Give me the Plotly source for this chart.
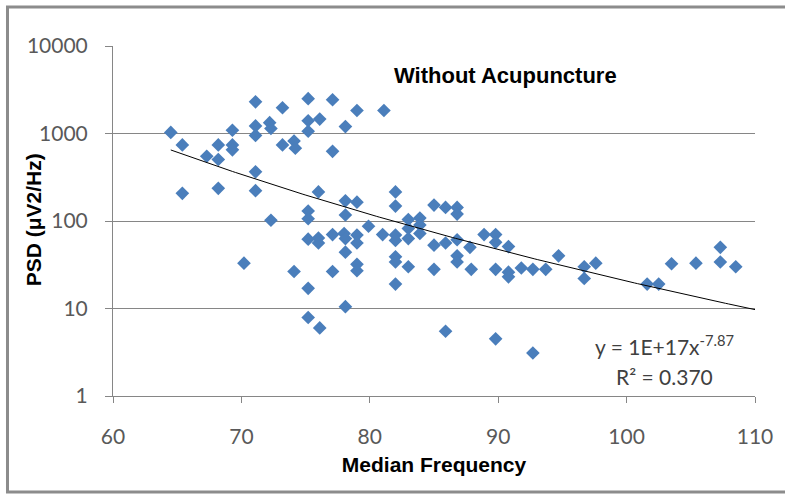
import plotly.graph_objects as go
import numpy as np

# ---- data ----
median_freq = [
    64.5, 65.4, 67.3, 68.2, 68.2, 69.3, 69.3, 69.3, 71.1, 71.1, 71.1, 71.1,
    72.2, 72.3, 73.2, 73.2, 74.1, 74.2, 75.2, 75.2, 75.2, 76.1, 77.1, 77.1,
    78.1, 79.0, 81.1,
    65.4, 68.2, 71.1, 72.3, 75.2, 75.2, 76.0, 78.1, 78.1, 79.0, 79.9, 82.0,
    82.0, 85.0, 85.9, 86.8, 86.8, 83.0, 83.9,
    75.2, 76.0, 76.0, 77.1, 78.0, 78.1, 79.0, 79.0, 78.1, 81.0, 82.0, 82.0,
    83.0, 83.0, 83.9, 83.9, 85.0, 85.9, 86.8, 87.8, 88.9, 89.8, 89.8, 90.8,
    70.2, 74.1, 77.1, 79.0, 79.0, 82.0, 82.0, 82.0, 83.0, 85.0, 86.8, 86.8,
    87.9, 89.8, 90.8, 90.8, 91.8, 92.7, 93.7, 94.7, 96.7, 96.7, 97.6, 101.6,
    102.5, 103.5, 105.4, 107.3, 107.3, 108.5, 75.2,
    75.2, 76.1, 78.1, 85.9, 89.8, 92.7,
]
psd = [
    1030, 740, 550, 740, 505, 1090, 740, 650, 2300, 1220, 950, 365,
    1330, 1140, 1970, 740, 820, 680, 2500, 1400, 1060, 1460, 2430, 625,
    1200, 1830, 1830,
    207, 236, 222, 102, 130, 106, 215, 170, 117, 164, 87, 215,
    148, 152, 143, 143, 120, 104, 108,
    62, 64, 56, 70, 72, 63, 69, 56, 44, 70, 69, 60,
    63, 82, 90, 72, 53, 56, 61, 50, 70, 70, 57, 51,
    33, 26.5, 26.5, 32, 27, 39, 34, 19, 30, 28, 40, 34,
    28, 28, 26, 23, 29, 28, 28, 40, 30, 22, 33, 19,
    19, 32.5, 33, 50, 34, 30, 17,
    7.9, 6.0, 10.5, 5.5, 4.5, 3.1,
]

# power trendline as reported on the chart: y = a * x^b
trend_a = 1.13e17
trend_b = -7.87

x_ticks = [60, 70, 80, 90, 100, 110]
y_ticks = [1, 10, 100, 1000, 10000]
y_tick_labels = ["1", "10", "100", "1000", "10000"]

tx = np.linspace(min(median_freq), 110, 200)
ty = trend_a * tx ** trend_b

W, H = 785, 494
ml, mr, mt, mb = 113, 27, 46, 98
pw, ph = W - ml - mr, H - mt - mb


def px(x):
    return (x - ml) / pw


def py(y):
    return 1 - (y - mt) / ph


fig = go.Figure()
fig.add_trace(go.Scatter(
    x=median_freq, y=psd, mode="markers",
    marker=dict(symbol="diamond", size=10.5, color="#4A7EBB", line=dict(width=0)),
    showlegend=False, hoverinfo="x+y",
))
fig.add_trace(go.Scatter(
    x=tx, y=ty, mode="lines", line=dict(color="black", width=1),
    showlegend=False, hoverinfo="skip",
))

tickfont = dict(family="Lato, Open Sans, sans-serif", size=21, color="#595959")
boldfont = dict(family="Liberation Sans, Arial, sans-serif", size=21, color="black")
eqfont = dict(family="Lato, Open Sans, sans-serif", size=21, color="#404040")

fig.update_layout(
    width=W, height=H,
    margin=dict(l=ml, r=mr, t=mt, b=mb),
    paper_bgcolor="white", plot_bgcolor="white",
    xaxis=dict(
        range=[60, 110], tickvals=x_ticks, showgrid=False, zeroline=False,
        showline=True, linecolor="#868686", linewidth=1,
        ticks="outside", ticklen=6, tickcolor="#868686",
        tickfont=tickfont, ticklabelstandoff=16,
        title=dict(text="<b>Median Frequency</b>", standoff=10, font=boldfont),
    ),
    yaxis=dict(
        type="log", range=[0, 4], tickvals=y_ticks, ticktext=y_tick_labels,
        showgrid=True, gridcolor="#868686", gridwidth=1, zeroline=False,
        showline=True, linecolor="#868686", linewidth=1,
        ticks="outside", ticklen=7, tickcolor="#868686",
        tickfont=tickfont, ticklabelstandoff=13,
    ),
    annotations=[
        dict(text="<b>PSD (μV2/Hz)</b>", xref="paper", yref="paper",
             x=px(33), y=py(220), xanchor="center", yanchor="middle",
             textangle=-90, showarrow=False, font=boldfont),
        dict(text="<b>Without Acupuncture</b>", xref="paper", yref="paper",
             x=px(507), y=py(75), xanchor="center", yanchor="middle",
             showarrow=False, font=dict(boldfont, size=22)),
        dict(text="y = 1E+17x<sup>-7.87</sup>", xref="paper", yref="paper",
             x=px(667), y=py(345), xanchor="center", yanchor="middle",
             showarrow=False, font=eqfont),
        dict(text="R² = 0.370", xref="paper", yref="paper",
             x=px(667), y=py(376), xanchor="center", yanchor="middle",
             showarrow=False, font=eqfont),
    ],
    shapes=[
        dict(type="rect", xref="paper", yref="paper",
             x0=px(7), x1=px(800), y0=py(492), y1=py(7),
             line=dict(color="#8C8C8C", width=3), fillcolor="rgba(0,0,0,0)", layer="below"),
    ],
)

fig.write_html("out.html")
